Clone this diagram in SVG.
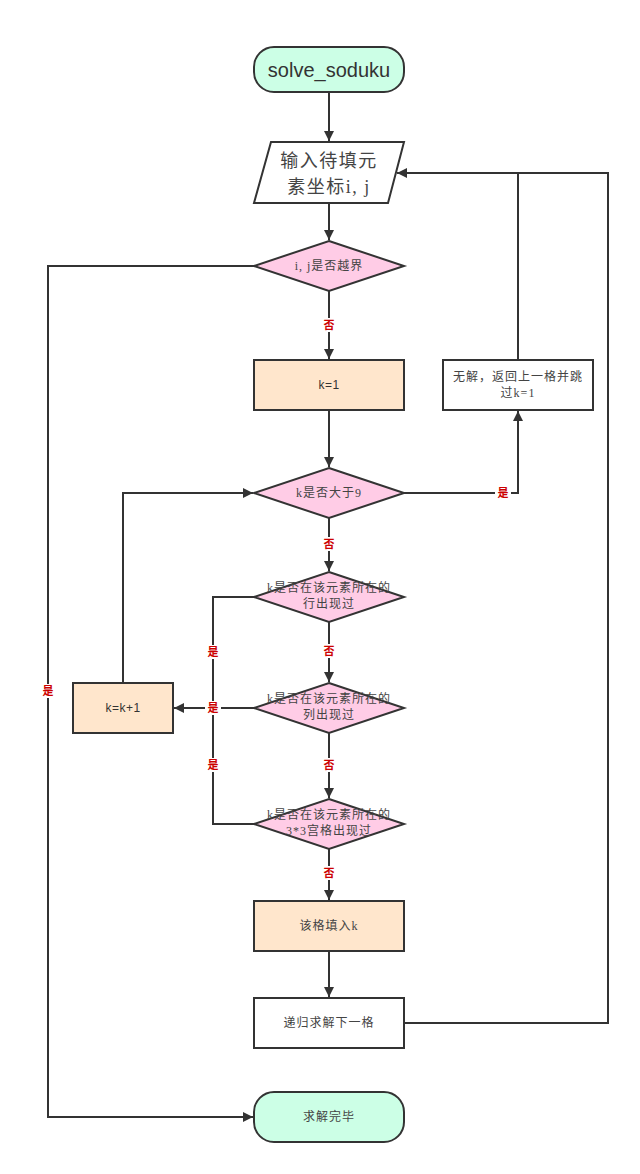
<svg xmlns="http://www.w3.org/2000/svg" width="640" height="1174" viewBox="0 0 640 1174">
<defs>
<marker id="ah" viewBox="0 0 10 10" refX="10" refY="5" markerWidth="10" markerHeight="11" markerUnits="userSpaceOnUse" orient="auto">
<path d="M0,0 L10,5 L0,10 Z" fill="#333"/>
</marker>
<style>
.n{stroke:#333;stroke-width:2}
.t{fill:#ccffe6}.p{fill:#ffe6cc}.d{fill:#ffcce6}.w{fill:#fff}
.c{fill:none;stroke:#333;stroke-width:2}
.a{marker-end:url(#ah)}
.tx{font-family:"Liberation Serif","Noto Sans CJK SC",serif;font-size:12px;fill:#444;text-anchor:middle;letter-spacing:1px}
.sx{font-family:"Liberation Sans","Noto Sans CJK SC",sans-serif;font-size:12px;fill:#333;text-anchor:middle;letter-spacing:0.5px}
.lb{font-family:"Noto Sans CJK SC",sans-serif;font-size:11px;font-weight:bold;fill:#cc0000;text-anchor:middle}
.lbg{fill:#fff}
.big{font-size:18px;letter-spacing:1.5px}
</style>
</defs>
<rect width="640" height="1174" fill="#fff"/>
<g id="connectors">
<path class="c a" d="M329,92 V141"/>
<path class="c a" d="M329,203 V240"/>
<path class="c a" d="M329,291 V359"/>
<path class="c a" d="M329,410 V467"/>
<path class="c a" d="M254,266 H48 V1117 H253"/>
<path class="c a" d="M404,493 H518 V411"/>
<path class="c a" d="M518,360 V173 H397"/>
<path class="c" d="M404,1023 H608 V173 H518"/>
<path class="c a" d="M329,518 V571"/>
<path class="c a" d="M329,622 V682"/>
<path class="c a" d="M329,733 V798"/>
<path class="c a" d="M329,849 V900"/>
<path class="c a" d="M329,951 V997"/>
<path class="c" d="M254,597 H213 V824 H254"/>
<path class="c a" d="M254,708 H174"/>
<path class="c a" d="M123,683 V493 H253"/>
<g>
<rect class="lbg" x="321" y="318" width="16" height="14"/><text class="lb" x="329" y="329">否</text>
<rect class="lbg" x="495" y="486" width="16" height="14"/><text class="lb" x="503" y="497">是</text>
<rect class="lbg" x="40" y="684" width="16" height="14"/><text class="lb" x="48" y="695">是</text>
<rect class="lbg" x="321" y="537" width="16" height="14"/><text class="lb" x="329" y="548">否</text>
<rect class="lbg" x="321" y="644" width="16" height="14"/><text class="lb" x="329" y="655">否</text>
<rect class="lbg" x="321" y="758" width="16" height="14"/><text class="lb" x="329" y="769">否</text>
<rect class="lbg" x="321" y="866" width="16" height="14"/><text class="lb" x="329" y="877">否</text>
<rect class="lbg" x="205" y="645" width="16" height="14"/><text class="lb" x="213" y="656">是</text>
<rect class="lbg" x="205" y="701" width="16" height="14"/><text class="lb" x="213" y="712">是</text>
<rect class="lbg" x="205" y="758" width="16" height="14"/><text class="lb" x="213" y="769">是</text>
</g>
</g>
<g id="start"><rect class="n t" x="254" y="47" width="150" height="45" rx="20"/><text x="329" y="77" font-family="Liberation Sans,sans-serif" font-size="20" fill="#333" text-anchor="middle">solve_soduku</text></g>
<g id="input"><path class="n w" d="M271,142 H404 L388,203 H254 Z"/><text class="tx big" x="329" y="167">输入待填元</text><text class="tx big" x="329" y="193">素坐标i, j</text></g>
<g id="d1"><path class="n d" d="M329,241 L404,266 L329,291 L254,266 Z"/><text class="tx" x="329" y="270">i, j是否越界</text></g>
<g id="k1"><rect class="n p" x="254" y="360" width="150" height="50"/><text class="sx" x="329" y="389">k=1</text></g>
<g id="nosol"><rect class="n w" x="443" y="360" width="150" height="50"/><text class="tx" x="518" y="381">无解，返回上一格并跳</text><text class="tx" x="518" y="397">过k=1</text></g>
<g id="d2"><path class="n d" d="M329,468 L404,493 L329,518 L254,493 Z"/><text class="tx" x="329" y="497">k是否大于9</text></g>
<g id="d3"><path class="n d" d="M329,572 L404,597 L329,622 L254,597 Z"/><text class="tx" x="329" y="592">k是否在该元素所在的</text><text class="tx" x="329" y="608">行出现过</text></g>
<g id="d4"><path class="n d" d="M329,683 L404,708 L329,733 L254,708 Z"/><text class="tx" x="329" y="703">k是否在该元素所在的</text><text class="tx" x="329" y="719">列出现过</text></g>
<g id="d5"><path class="n d" d="M329,799 L404,824 L329,849 L254,824 Z"/><text class="tx" x="329" y="819">k是否在该元素所在的</text><text class="tx" x="329" y="835">3*3宫格出现过</text></g>
<g id="kinc"><rect class="n p" x="73" y="683" width="100" height="50"/><text class="sx" x="123" y="712">k=k+1</text></g>
<g id="fill"><rect class="n p" x="254" y="901" width="150" height="50"/><text class="tx" x="329" y="930">该格填入k</text></g>
<g id="rec"><rect class="n w" x="254" y="998" width="150" height="50"/><text class="tx" x="329" y="1027">递归求解下一格</text></g>
<g id="end"><rect class="n t" x="254" y="1092" width="150" height="50" rx="20"/><text class="tx" x="329" y="1121">求解完毕</text></g>
</svg>
